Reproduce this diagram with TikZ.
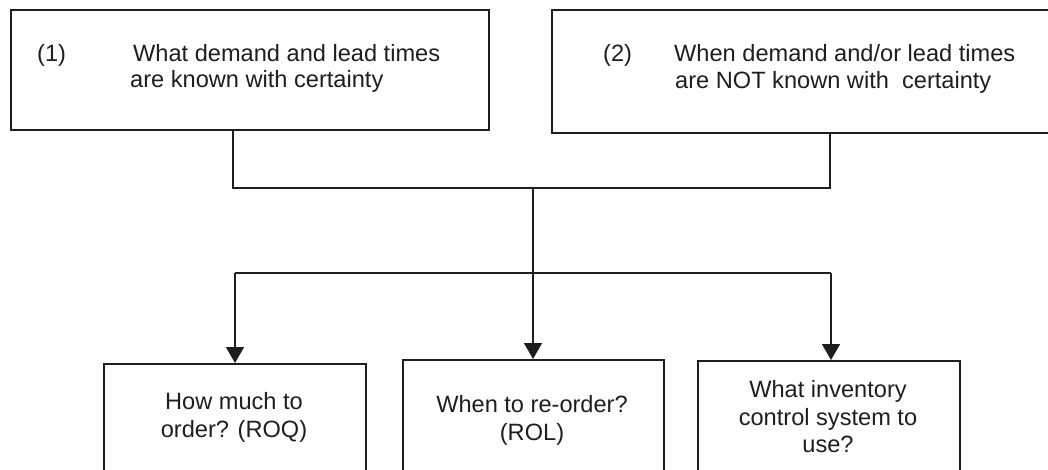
\documentclass[tikz,border=0pt]{standalone}
\usepackage{fontspec}
\setmainfont{Liberation Sans}
\usetikzlibrary{arrows.meta}
\definecolor{ink}{HTML}{1E1E1E}
\tikzset{
  box/.style={draw=ink, line width=1.7pt, fill=none, inner sep=0pt, anchor=north west},
  txt/.style={text=ink, inner sep=0pt, font=\fontsize{23.6}{27}\selectfont},
  wire/.style={draw=ink, line width=1.7pt},
  arr/.style={wire, -{Triangle[length=16pt,width=18pt]}}
}
\begin{document}
\begin{tikzpicture}[x=1pt,y=-1pt]
\useasboundingbox (0,0) rectangle (1048,470);
\clip (0,0) rectangle (1048,470);

% upper boxes
\node[box, minimum width=478pt, minimum height=120pt] (b1) at (10,9) {};
\node[box, minimum width=500pt, minimum height=123pt] (b2) at (551,9) {};

\node[txt, anchor=base west] (n1) at (37,62) {(1)};
\node[txt, anchor=base west] (t1a) at (133,62) {What demand and lead times};
\node[txt, anchor=base west] (t1b) at (130,88) {are known with certainty};

\node[txt, anchor=base west] (n2) at (603,62) {(2)};
\node[txt, anchor=base west] (t2a) at (674,62) {When demand and/or lead times};
\node[txt, anchor=base west] (t2b) at (675,89) {are NOT known with\ \ certainty};

% lower boxes
\node[box, minimum width=262pt, minimum height=140pt] (b3) at (103,363) {};
\node[box, minimum width=261pt, minimum height=140pt] (b4) at (402,359) {};
\node[box, minimum width=262pt, minimum height=140pt] (b5) at (697,360) {};

\node[txt, anchor=base] (t3a) at (234,409) {How much to};
\node[txt, anchor=base] (t3b) at (234,437) {order? (ROQ)};

\node[txt, anchor=base] (t4a) at (532,412) {When to re-order?};
\node[txt, anchor=base] (t4b) at (532,440) {(ROL)};

\node[txt, anchor=base] (t5a) at (828,397) {What inventory};
\node[txt, anchor=base] (t5b) at (828,425) {control system to};
\node[txt, anchor=base] (t5c) at (828,452) {use?};

% joining lines
\coordinate (j1) at (233,188);
\coordinate (j2) at (830,188);
\coordinate (m) at (533,188);
\coordinate (s) at (533,273);
\coordinate (hl) at (235,273);
\coordinate (hr) at (831,273);

\draw[wire] (b1.south -| j1) -- (j1) -- (j2) -- (b2.south -| j2);
\draw[wire] (m) -- (s);
\draw[wire] (hl) -- (hr);
\draw[arr] (hl) -- (hl |- b3.north);
\draw[arr] (s) -- (s |- b4.north);
\draw[arr] (hr) -- (hr |- b5.north);
\end{tikzpicture}
\end{document}
